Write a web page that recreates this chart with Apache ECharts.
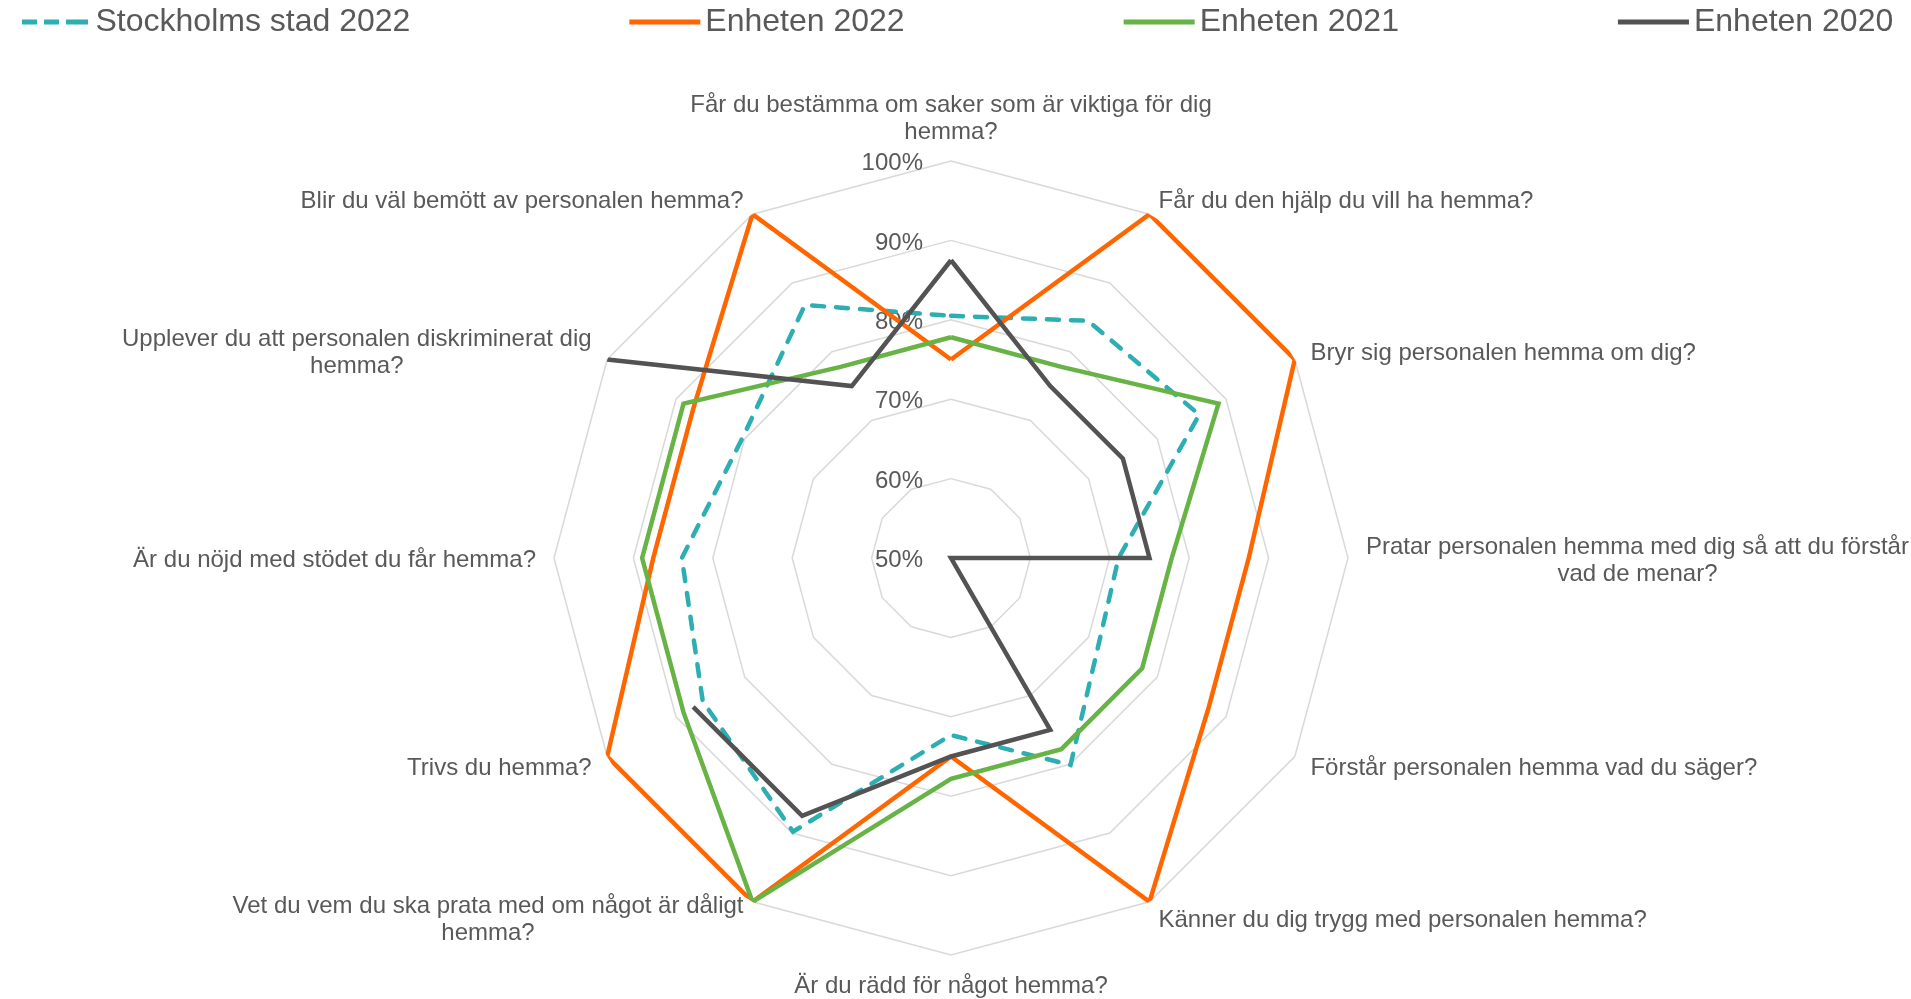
<!DOCTYPE html>
<html>
<head>
<meta charset="utf-8">
<title>Radar</title>
<script src="https://cdn.jsdelivr.net/npm/echarts@6/dist/echarts.min.js"></script>
<style>
  html, body { margin: 0; padding: 0; background: #ffffff; }
  #chart { width: 1911px; height: 999px; }
</style>
</head>
<body>
<div id="chart"></div>
<script>
// frågor, medurs från toppen
var questions = [
    'Får du bestämma om saker som är viktiga för dig\nhemma?',
    'Får du den hjälp du vill ha hemma?',
    'Bryr sig personalen hemma om dig?',
    'Pratar personalen hemma med dig så att du förstår\nvad de menar?',
    'Förstår personalen hemma vad du säger?',
    'Känner du dig trygg med personalen hemma?',
    'Är du rädd för något hemma?',
    'Vet du vem du ska prata med om något är dåligt\nhemma?',
    'Trivs du hemma?',
    'Är du nöjd med stödet du får hemma?',
    'Upplever du att personalen diskriminerat dig\nhemma?',
    'Blir du väl bemött av personalen hemma?'
];
var seriesNames = ['Stockholms stad 2022', 'Enheten 2022', 'Enheten 2021', 'Enheten 2020'];
var stockholm2022 = [80.5, 84.5, 86.1, 71.1, 71.5, 80.1, 72.3, 89.8, 86.1, 83.9, 80.3, 86.8];
var enheten2022 = [75, 100, 100, 87.5, 87.5, 100, 75, 100, 100, 87.5, 87.5, 100];
var enheten2021 = [77.8, 77.8, 88.9, 77.8, 77.8, 77.8, 77.8, 100, 88.9, 88.9, 88.9, 77.8];
var enheten2020 = [87.5, 75, 75, 75, 50, 75, 75, 87.5, 87.5, null, 100, 75];
var scaleMin = 50, scaleMax = 100, scaleSplits = 5;

var FONT = '"Liberation Sans", Arial, sans-serif';
var TEXT = '#595959';
var CENTER = [951, 558];
var RADIUS = 397;

// radar går moturs, så vänd ordningen (första frågan kvar i toppen)
var radarOrder = [0];
for (var q = questions.length - 1; q > 0; q--) radarOrder.push(q);

var indicators = radarOrder.map(function (idx, k) {
    var ind = { name: questions[idx], min: scaleMin, max: scaleMax };
    if (k === 0) {
        ind.axisLabel = {
            show: true, margin: 28, color: TEXT, fontSize: 24, fontFamily: FONT,
            formatter: function (v) { return '{p|' + v + '%}'; },
            rich: { p: { color: TEXT, fontSize: 24, fontFamily: FONT, lineHeight: 22, padding: [5, 0, 0, 0] } }
        };
    }
    return ind;
});

function toPolar(values) {
    var pts = values.map(function (v, i) { return [v == null ? '-' : v, i]; });
    pts.push([values[0] == null ? '-' : values[0], values.length]);
    return pts;
}

function lineSerie(name, values, color, dash) {
    return {
        name: name,
        type: 'line',
        coordinateSystem: 'polar',
        data: toPolar(values),
        symbol: 'none',
        connectNulls: false,
        itemStyle: { color: color },
        lineStyle: { color: color, width: 4.5, type: dash || 'solid', cap: dash ? 'round' : 'butt', join: 'miter' },
        animation: false
    };
}

var chart = echarts.init(document.getElementById('chart'));
chart.setOption({
    backgroundColor: '#ffffff',
    animation: false,
    legend: {
        left: 17,
        top: 1,
        itemGap: 219,
        itemWidth: 71,
        itemHeight: 5,
        itemStyle: { borderWidth: 0 },
        textStyle: { fontSize: 32, color: TEXT, fontFamily: FONT },
        data: [
            { name: seriesNames[0], icon: 'path://M0,0H15V5H0Z M22,0H37V5H22Z M44,0H66V5H44Z' },
            { name: seriesNames[1], icon: 'rect' },
            { name: seriesNames[2], icon: 'rect' },
            { name: seriesNames[3], icon: 'rect' }
        ]
    },
    radar: {
        center: CENTER,
        radius: RADIUS,
        startAngle: 90,
        shape: 'polygon',
        splitNumber: scaleSplits,
        nameGap: 18,
        axisName: {
            color: TEXT,
            fontSize: 24,
            fontFamily: FONT,
            lineHeight: 32,
            formatter: function (name) {
                var parts = name.split('\n');
                if (parts.length < 2) return '{s|' + name + '}';
                return parts[0] + '\n{c|' + parts[1] + '}';
            },
            rich: {
                c: { align: 'center', color: TEXT, fontSize: 24, fontFamily: FONT, lineHeight: 22 },
                s: { color: TEXT, fontSize: 24, fontFamily: FONT, lineHeight: 22, padding: [5, 0, 0, 0] }
            }
        },
        axisLine: { show: false },
        axisTick: { show: false },
        axisLabel: { show: false },
        splitLine: { lineStyle: { color: '#d9d9d9', width: 1.5 } },
        splitArea: { show: false },
        indicator: indicators
    },
    polar: { center: CENTER, radius: RADIUS },
    angleAxis: { type: 'value', min: 0, max: questions.length, startAngle: 90, clockwise: true, show: false },
    radiusAxis: { type: 'value', min: scaleMin, max: scaleMax, show: false },
    series: [
        lineSerie(seriesNames[0], stockholm2022, '#2daeb2', [12, 12]),
        lineSerie(seriesNames[1], enheten2022, '#ff6600'),
        lineSerie(seriesNames[2], enheten2021, '#68b346'),
        lineSerie(seriesNames[3], enheten2020, '#535353')
    ]
});
</script>
</body>
</html>
